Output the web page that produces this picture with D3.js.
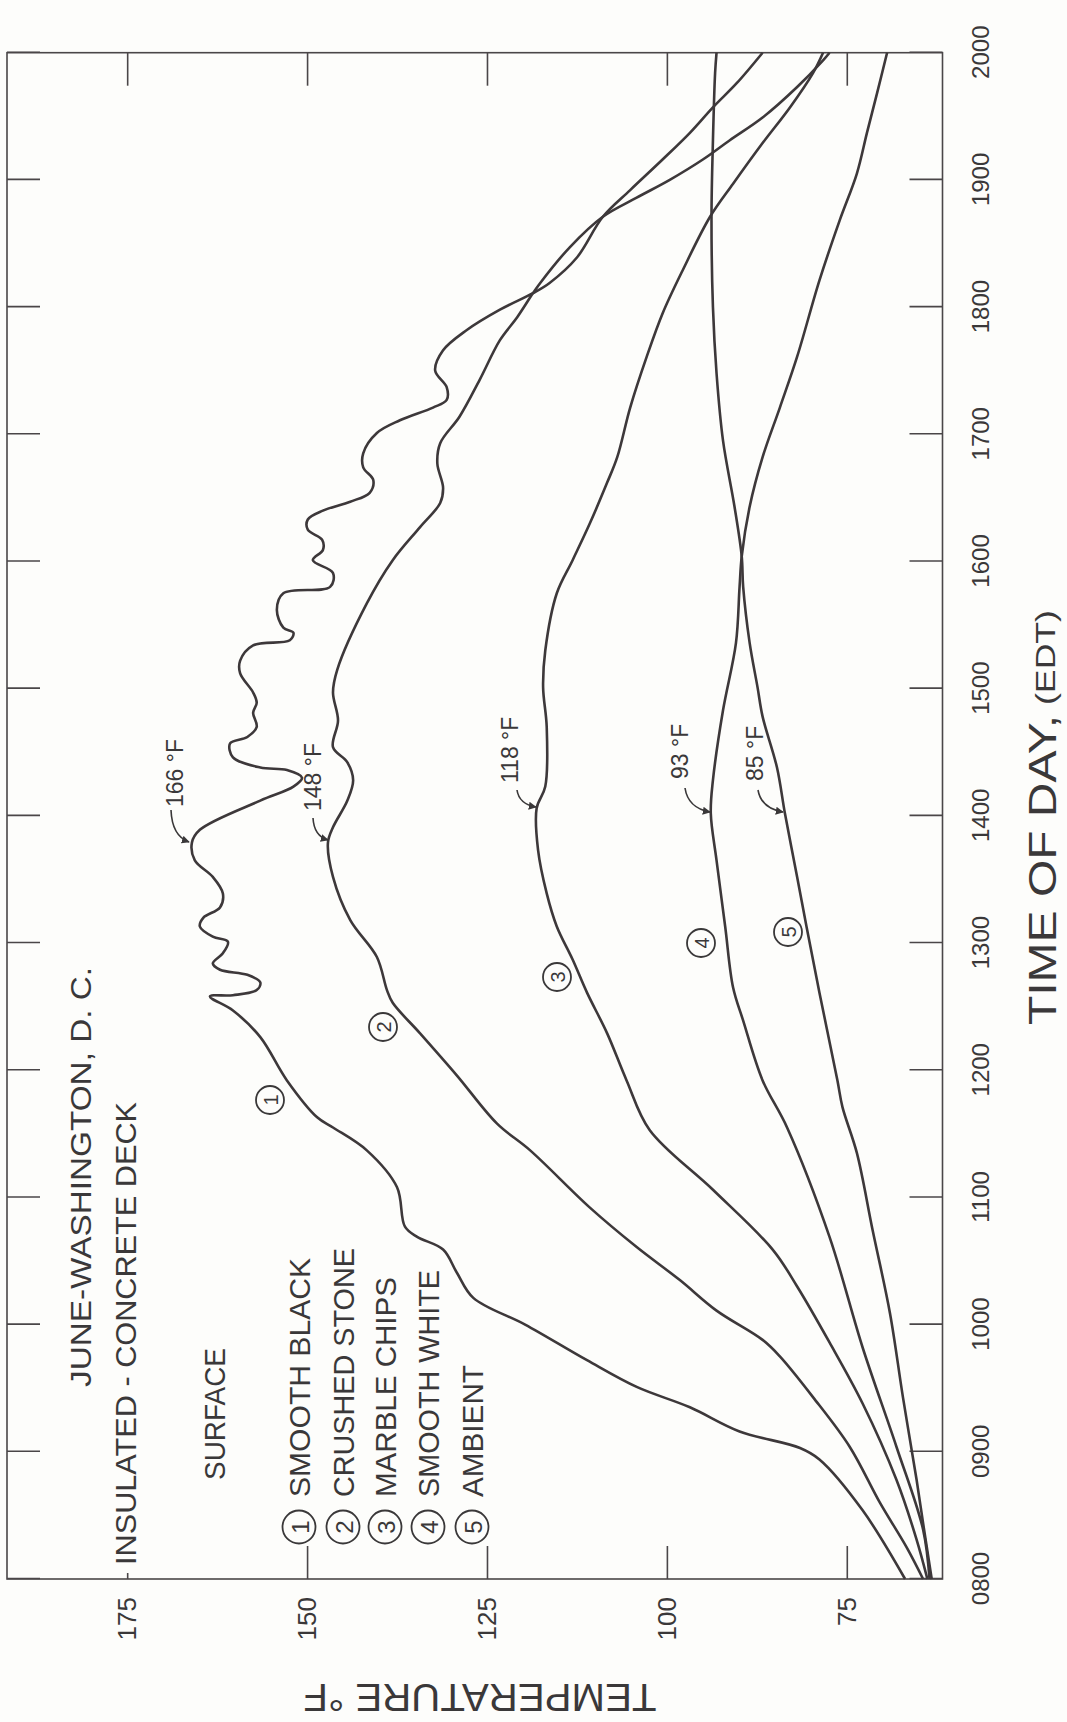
<!DOCTYPE html>
<html>
<head>
<meta charset="utf-8">
<script src="https://cdn.jsdelivr.net/npm/d3@7"></script>
<style>
    body { margin: 0; background: #fdfdfb; }
    svg { display: block; }
    text { font-family: "Liberation Sans", Arial, sans-serif; fill: #3a3839; }
</style>
</head>
<body>
<script>
// June - Washington D.C., insulated concrete deck, surface temperatures
// chart is drawn upright, then the whole thing is turned 90 deg like the print

// hour of day (decimal) and temperature (F) for each surface
let hours = [8, 9, 10, 11, 12, 13, 14, 15, 16, 17, 18, 19, 20];
let hourLabels = ["0800", "0900", "1000", "1100", "1200", "1300", "1400",
    "1500", "1600", "1700", "1800", "1900", "2000"];
let tempTicks = [75, 100, 125, 150, 175];
let surfaceNames = ["SMOOTH  BLACK", "CRUSHED  STONE", "MARBLE  CHIPS", "SMOOTH  WHITE", "AMBIENT"];
let peakLabels = ["166 °F", "148 °F", "118 °F", "93 °F", "85 °F"];

let blackT = [8.00, 8.54, 8.94, 9.03, 9.16, 9.35, 9.51, 9.72, 10.00, 10.21, 10.41, 10.59, 10.69, 10.77,
    11.08, 11.37, 11.55, 11.63, 11.92, 12.26, 12.47, 12.58, 12.59, 12.63, 12.69, 12.75, 12.79, 12.84,
    12.92, 13.01, 13.05, 13.13, 13.20, 13.28, 13.39, 13.52, 13.65, 13.79, 13.89, 14.12, 14.23, 14.30,
    14.36, 14.38, 14.46, 14.57, 14.62, 14.70, 14.81, 14.89, 14.97, 15.12, 15.22, 15.34, 15.38, 15.44,
    15.48, 15.62, 15.75, 15.80, 15.91, 16.01, 16.09, 16.17, 16.25, 16.33, 16.40, 16.47, 16.54, 16.64,
    16.74, 16.85, 17.01, 17.11, 17.21, 17.27, 17.37, 17.50, 17.66, 17.82, 17.98, 18.11, 18.19, 18.39,
    18.71, 18.92, 19.16, 19.37, 19.57, 19.76, 20.00];
let blackF = [66.9, 72.8, 78.8, 81.5, 89.9, 96.8, 104.2, 111.1, 119.7, 126.9, 129.2, 131.1, 134.7, 136.4,
    137.5, 141.7, 146.4, 148.6, 152.8, 156.5, 160.3, 163.5, 160.3, 157.0, 156.5, 158.3, 162.1, 163.1,
    161.7, 161.0, 163.1, 164.9, 164.4, 162.1, 161.7, 163.1, 165.6, 166.0, 164.9, 156.5, 151.9, 150.7,
    152.8, 156.5, 160.3, 160.7, 158.3, 157.0, 157.5, 157.0, 157.5, 159.3, 159.3, 157.5, 152.4, 151.9,
    153.3, 154.2, 153.3, 146.8, 146.4, 149.2, 147.8, 147.9, 149.9, 149.9, 147.8, 144.0, 141.3, 140.8,
    142.2, 142.2, 140.3, 137.1, 132.5, 130.6, 130.6, 132.2, 131.1, 127.8, 123.2, 118.6, 116.3, 112.5,
    108.9, 105.1, 100.6, 96.8, 93.6, 90.3, 86.7];

let stoneT = [8.00, 8.25, 8.60, 9.04, 9.43, 9.75, 9.88, 10.11, 10.35, 10.61, 10.92, 11.37, 11.58, 11.96,
    12.29, 12.53, 12.63, 12.89, 13.18, 13.52, 13.79, 13.91, 14.12, 14.28, 14.42, 14.54, 14.75, 14.97,
    15.15, 15.67, 16.01, 16.27, 16.46, 16.58, 16.77, 16.93, 17.14, 17.43, 17.74, 17.92, 18.11, 18.19,
    18.47, 18.71, 18.86, 19.00, 19.16, 19.31, 19.49, 19.73, 19.94, 20.00];
let stoneF = [64.4, 66.7, 70.4, 74.6, 79.7, 84.3, 86.7, 93.1, 98.2, 104.2, 110.7, 119.0, 123.6, 129.2,
    134.3, 138.1, 138.9, 140.3, 144.0, 146.4, 147.1, 146.4, 144.4, 143.6, 144.4, 146.4, 145.7, 146.4,
    145.8, 141.7, 138.1, 134.3, 131.5, 131.1, 131.9, 131.5, 128.8, 126.0, 123.2, 120.8, 118.6, 117.6,
    113.5, 108.9, 104.2, 99.6, 95.0, 91.3, 86.7, 81.9, 78.3, 77.4];

let marbleT = [8.00, 8.31, 8.78, 9.38, 9.86, 10.30, 10.59, 11.06, 11.53, 11.92, 12.29, 12.61, 12.87,
    13.13, 13.39, 13.73, 14.06, 14.23, 14.70, 15.01, 15.30, 15.75, 16.01, 16.30, 16.62, 16.82, 17.21,
    17.61, 17.95, 18.29, 18.71, 18.97, 19.29, 19.57, 19.84, 20.00];
let marbleF = [63.8, 65.3, 68.1, 72.8, 77.4, 81.9, 85.3, 93.6, 102.4, 105.6, 108.3, 111.1, 113.1,
    115.3, 116.7, 117.9, 118.1, 116.9, 116.7, 117.2, 116.9, 115.3, 113.1, 110.7, 108.3, 106.9, 105.1,
    102.8, 100.6, 97.8, 94.0, 90.8, 86.7, 82.9, 79.7, 78.3];

let whiteT = [8.00, 8.39, 9.04, 9.82, 10.69, 11.55, 11.92, 12.39, 12.65, 13.13, 13.65, 14.02, 14.28,
    14.83, 15.36, 15.80, 16.04, 16.43, 16.82, 17.21, 17.61, 18.21, 18.68, 19.05, 19.37, 19.68, 20.00];
let whiteF = [63.5, 64.4, 68.1, 72.8, 77.4, 83.3, 86.7, 89.4, 90.8, 91.9, 93.1, 93.9, 93.6,
    92.2, 90.4, 89.9, 89.6, 88.5, 86.7, 84.3, 81.9, 78.8, 76.0, 73.6, 72.2, 70.8, 69.4];

let ambientT = [8.00, 8.44, 8.78, 9.43, 10.09, 10.74, 11.35, 11.71, 11.92, 12.61, 13.13, 13.52, 14.02,
    14.38, 14.78, 15.01, 15.36, 15.80, 16.04, 16.43, 16.95, 17.48, 18.00, 18.71, 19.31, 19.84, 20.00];
let ambientF = [63.2, 64.4, 65.3, 67.2, 69.0, 71.4, 73.6, 75.6, 76.3, 78.8, 80.6, 81.9, 83.6,
    84.7, 86.7, 87.4, 88.5, 89.4, 89.6, 90.6, 92.2, 93.1, 93.6, 93.8, 93.6, 93.3, 93.1];

let seriesT = [blackT, stoneT, marbleT, whiteT, ambientT];
let seriesF = [blackF, stoneF, marbleF, whiteF, ambientF];

// page is 1067 wide, 1722 tall; the chart itself lives in a 1722 x 1067 turned frame
let pageW = 1067, pageH = 1722;
let margin = {top: 7, right: 52.7, bottom: 124.5, left: 143};
let width = pageH - margin.left - margin.right,
    height = pageW - margin.top - margin.bottom;

let ink = "#3d383a";

let svg = d3.select("body")
    .append("svg")
    .attr("width", pageW)
    .attr("height", pageH);

svg.append("rect")
    .attr("width", pageW)
    .attr("height", pageH)
    .attr("fill", "#fdfdfb");

let turned = svg.append("g")
    .attr("transform", "translate(0," + pageH + ") rotate(-90)");

let chart = turned.append("g")
    .attr("transform", "translate(" + margin.left + "," + margin.top + ")");

let x = d3.scaleLinear().domain([8, 20]).range([0, width]);
let y = d3.scaleLinear().domain([61.7, 191.7]).range([height, 0]);

// frame
chart.append("rect")
    .attr("width", width)
    .attr("height", height)
    .attr("fill", "none")
    .attr("stroke", "#4a4648")
    .attr("stroke-width", 1.6);

// axes, ticks pointing in
let xAxis = d3.axisBottom(x)
    .tickValues(hours)
    .tickFormat(function(d, i) { return hourLabels[i]; })
    .tickSizeInner(-33)
    .tickSizeOuter(0)
    .tickPadding(29);

let xAxisTop = d3.axisTop(x)
    .tickValues(hours)
    .tickFormat("")
    .tickSizeInner(-33)
    .tickSizeOuter(0);

let yAxis = d3.axisLeft(y)
    .tickValues(tempTicks)
    .tickSizeInner(-33)
    .tickSizeOuter(0)
    .tickPadding(18);

let yAxisRight = d3.axisRight(y)
    .tickValues(tempTicks)
    .tickFormat("")
    .tickSizeInner(-33)
    .tickSizeOuter(0);

let gx = chart.append("g")
    .attr("class", "x-axis axis")
    .attr("transform", "translate(0," + height + ")")
    .call(xAxis);

chart.append("g")
    .attr("class", "x-axis-top axis")
    .call(xAxisTop);

let gy = chart.append("g")
    .attr("class", "y-axis axis")
    .call(yAxis);

chart.append("g")
    .attr("class", "y-axis-right axis")
    .attr("transform", "translate(" + width + ",0)")
    .call(yAxisRight);

chart.selectAll(".axis .domain").remove();
chart.selectAll(".axis .tick line")
    .attr("stroke", "#4a4648")
    .attr("stroke-width", 1.6);

// the 175 tick is only a stub where the heading starts
gy.selectAll(".tick line")
    .filter(function(d) { return d === 175; })
    .attr("x2", 6);

gx.selectAll(".tick text")
    .attr("font-size", 24)
    .attr("font-family", "Liberation Sans, Arial, sans-serif")
    .attr("fill", "#3a3839");

gy.selectAll(".tick text")
    .attr("font-size", 26)
    .attr("font-family", "Liberation Sans, Arial, sans-serif")
    .attr("fill", "#3a3839");

// the curves
let line = d3.line()
    .x(function(d) { return x(d[0]); })
    .y(function(d) { return y(d[1]); })
    .curve(d3.curveCatmullRom.alpha(0.5));

let seriesData = seriesT.map(function(ts, i) {
    return ts.map(function(t, j) { return [t, seriesF[i][j]]; });
});

chart.selectAll(".curve")
    .data(seriesData)
    .enter()
    .append("path")
    .attr("class", "curve")
    .attr("d", line)
    .attr("fill", "none")
    .attr("stroke", ink)
    .attr("stroke-width", 2.6)
    .attr("stroke-linejoin", "round");

// --- lettering, placed in page coordinates (X across, Y down) ---
function pageText(str, X, Y, size, len) {
    let t = turned.append("text")
        .attr("transform", "translate(" + (pageH - Y) + "," + X + ")")
        .attr("dominant-baseline", "central")
        .attr("font-size", size)
        .text(str);
    if (len) {
        t.attr("textLength", len).attr("lengthAdjust", "spacingAndGlyphs");
    }
    return t;
}

function circled(num, X, Y, r, size) {
    turned.append("circle")
        .attr("cx", pageH - Y)
        .attr("cy", X)
        .attr("r", r)
        .attr("fill", "none")
        .attr("stroke", "#3a3839")
        .attr("stroke-width", 1.8);
    pageText(num, X + 1, Y, size).attr("text-anchor", "middle");
}

pageText("JUNE-WASHINGTON,  D. C.", 80, 1387, 30, 420);
pageText("INSULATED  -  CONCRETE  DECK", 125, 1565, 30, 463);
pageText("SURFACE", 214, 1480, 30, 132);

// legend
let legendX = [299, 343, 385, 428, 472];
let legendLen = [239, 249, 220, 227, 132];
surfaceNames.forEach(function(name, i) {
    circled(String(i + 1), legendX[i], 1527, 16.5, 24);
    pageText(name, legendX[i] + 1, 1497, 29, legendLen[i]);
});

// numbers on the curves
let tagPos = [[270, 1100], [383, 1027], [557, 977], [701, 943], [788, 932]];
tagPos.forEach(function(p, i) {
    circled(String(i + 1), p[0], p[1], 14, 20);
});

// peak notes with little arrows
turned.append("defs").append("marker")
    .attr("id", "head")
    .attr("viewBox", "0 0 10 10")
    .attr("refX", 9)
    .attr("refY", 5)
    .attr("markerWidth", 5)
    .attr("markerHeight", 5)
    .attr("orient", "auto")
    .append("path")
    .attr("d", "M0,0 L10,5 L0,10 z")
    .attr("fill", "#3a3839");

let notePos = [[175, 807], [313, 811], [510, 783], [680, 779], [755, 781]];
let arrows = [
    [[171, 810], [172, 836], [189, 842]],
    [[313, 818], [314, 836], [328, 840]],
    [[517, 790], [519, 804], [536, 807]],
    [[685, 788], [688, 808], [710, 812]],
    [[758, 790], [761, 808], [783, 812]]
];
peakLabels.forEach(function(lab, i) {
    pageText(lab, notePos[i][0], notePos[i][1], 23);
    let a = arrows[i];
    turned.append("path")
        .attr("d", "M" + (pageH - a[0][1]) + "," + a[0][0] +
            " Q" + (pageH - a[1][1]) + "," + a[1][0] +
            " " + (pageH - a[2][1]) + "," + a[2][0])
        .attr("fill", "none")
        .attr("stroke", "#3a3839")
        .attr("stroke-width", 1.6)
        .attr("marker-end", "url(#head)");
});

// axis titles
pageText("TIME  OF  DAY,", 1043, 1025, 38, 310);
pageText("(EDT)", 1045, 705, 28, 95);

turned.append("text")
    .attr("transform", "translate(" + (pageH - 1697) + ",480) rotate(-90)")
    .attr("text-anchor", "middle")
    .attr("dominant-baseline", "central")
    .attr("font-size", 38)
    .attr("textLength", 353)
    .attr("lengthAdjust", "spacingAndGlyphs")
    .text("TEMPERATURE °F");
</script>
</body>
</html>
